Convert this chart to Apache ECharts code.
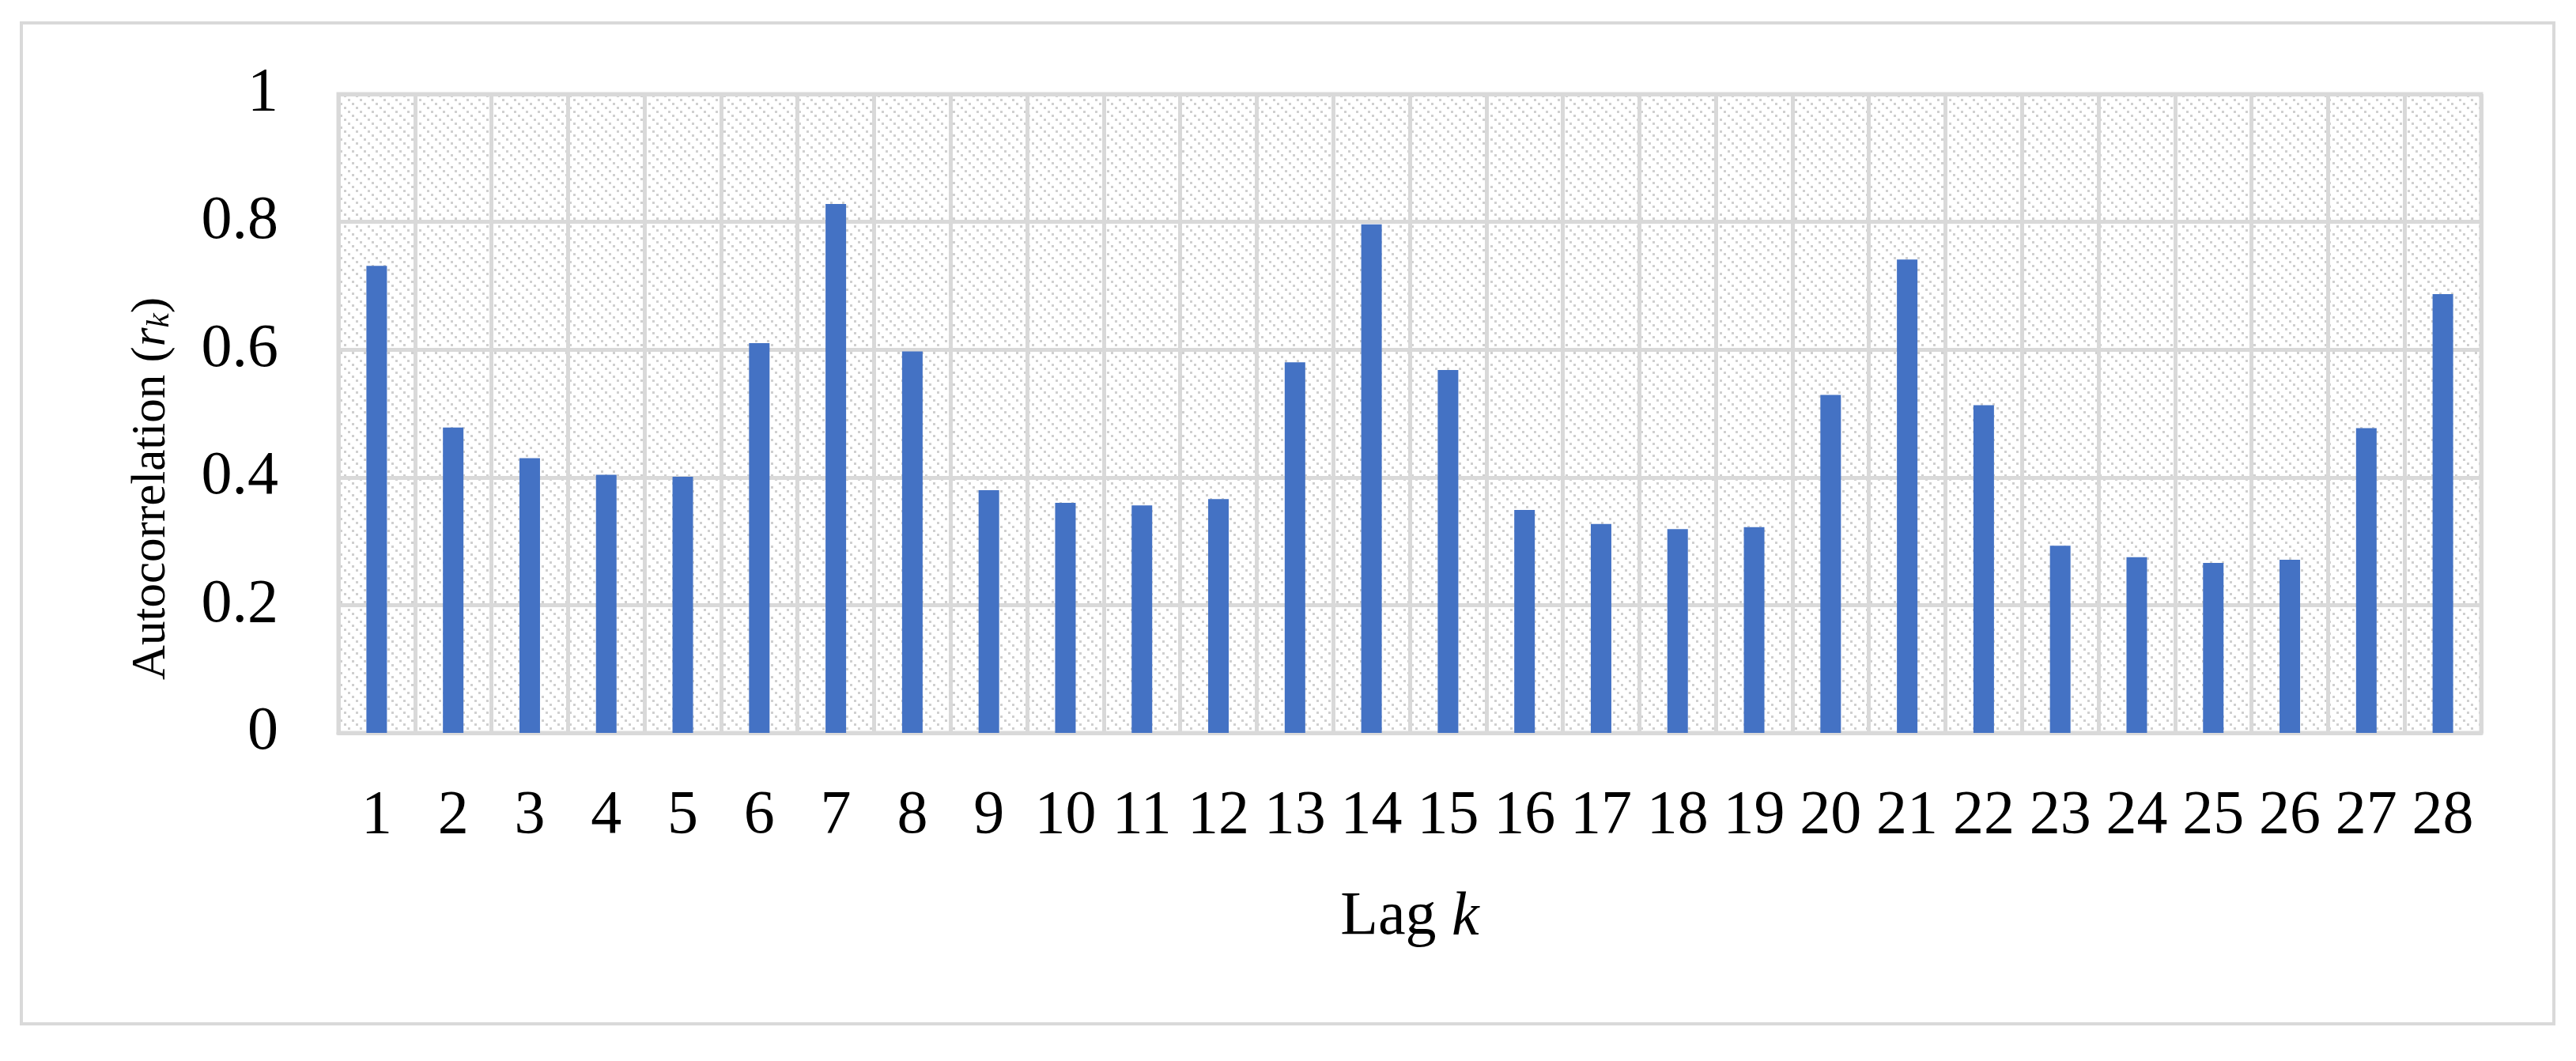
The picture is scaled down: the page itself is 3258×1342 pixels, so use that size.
<!DOCTYPE html>
<html>
<head>
<meta charset="utf-8">
<title>Autocorrelation by lag</title>
<script src="https://cdn.jsdelivr.net/npm/echarts@6/dist/echarts.min.js"></script>
<style>
  html, body { margin: 0; padding: 0; background: #fff; }
  #chart { width: 3258px; height: 1342px; }
</style>
</head>
<body>
<div id="chart"></div>
<script>
// lag categories and autocorrelation values
const lags = ['1', '2', '3', '4', '5', '6', '7', '8', '9', '10', '11', '12', '13', '14',
  '15', '16', '17', '18', '19', '20', '21', '22', '23', '24', '25', '26', '27', '28'];
const autocorr = [0.731, 0.478, 0.430, 0.404, 0.401, 0.610, 0.828, 0.597, 0.380, 0.360,
  0.356, 0.366, 0.580, 0.796, 0.568, 0.349, 0.327, 0.319, 0.322, 0.529,
  0.741, 0.513, 0.293, 0.275, 0.266, 0.271, 0.477, 0.687];
const yTicks = [0, 0.2, 0.4, 0.6, 0.8, 1];

const FONT = '"Liberation Serif", "Times New Roman", serif';
const GRID_GRAY = '#d9d9d9';

// dotted downward-diagonal hatch used as plot background
function makeHatch() {
  const size = 15;
  const c = document.createElement('canvas');
  c.width = size;
  c.height = size;
  const ctx = c.getContext('2d');
  ctx.fillStyle = '#ffffff';
  ctx.fillRect(0, 0, size, size);
  ctx.fillStyle = '#cfcfcf';
  for (let i = 0; i < size; i += 5) {
    ctx.fillRect(i, i, 3, 3);
  }
  return c;
}

const chart = echarts.init(document.getElementById('chart'));

const option = {
  backgroundColor: '#ffffff',
  animation: false,
  grid: {
    left: 428,
    right: 120,
    top: 119,
    bottom: 415,
    show: true,
    backgroundColor: { image: makeHatch(), repeat: 'repeat' },
    borderColor: GRID_GRAY,
    borderWidth: 5
  },
  xAxis: {
    type: 'category',
    data: lags,
    axisLine: { show: true, lineStyle: { color: GRID_GRAY, width: 5 } },
    axisTick: { show: false },
    axisLabel: {
      color: '#000',
      fontFamily: FONT,
      fontSize: 78,
      margin: 67,
      interval: 0
    },
    splitLine: { show: true, lineStyle: { color: GRID_GRAY, width: 5 } }
  },
  yAxis: {
    type: 'value',
    min: yTicks[0],
    max: yTicks[yTicks.length - 1],
    interval: 0.2,
    axisLine: { show: false },
    axisTick: { show: false },
    axisLabel: {
      color: '#000',
      fontFamily: FONT,
      fontSize: 78,
      margin: 76
    },
    splitLine: { show: true, lineStyle: { color: GRID_GRAY, width: 5 } }
  },
  series: [
    {
      name: 'Autocorrelation',
      type: 'bar',
      data: autocorr,
      barWidth: 26,
      itemStyle: { color: '#4472C4' }
    }
  ],
  graphic: [
    // outer frame
    {
      type: 'rect',
      shape: { x: 27, y: 29, width: 3203, height: 1266 },
      style: { fill: 'none', stroke: GRID_GRAY, lineWidth: 4 },
      z: -1
    },
    // y axis title
    {
      type: 'text',
      x: 192,
      y: 618,
      rotation: Math.PI / 2,
      style: {
        text: '{a|Autocorrelation (}{r|r}{k|k}{a|)}',
        align: 'center',
        verticalAlign: 'middle',
        rich: {
          a: { fontFamily: FONT, fontSize: 61, fill: '#000' },
          r: { fontFamily: FONT, fontSize: 61, fontStyle: 'italic', fill: '#000' },
          k: { fontFamily: FONT, fontSize: 41, fontStyle: 'italic', fill: '#000', verticalAlign: 'bottom' }
        }
      }
    },
    // x axis title
    {
      type: 'text',
      x: 1783,
      y: 1161,
      style: {
        text: '{a|Lag }{k|k}',
        align: 'center',
        verticalAlign: 'middle',
        rich: {
          a: { fontFamily: FONT, fontSize: 78, fill: '#000' },
          k: { fontFamily: FONT, fontSize: 78, fontStyle: 'italic', fill: '#000' }
        }
      }
    }
  ]
};

chart.setOption(option);

window.addEventListener('resize', () => {
  chart && chart.resize();
});
</script>
</body>
</html>
